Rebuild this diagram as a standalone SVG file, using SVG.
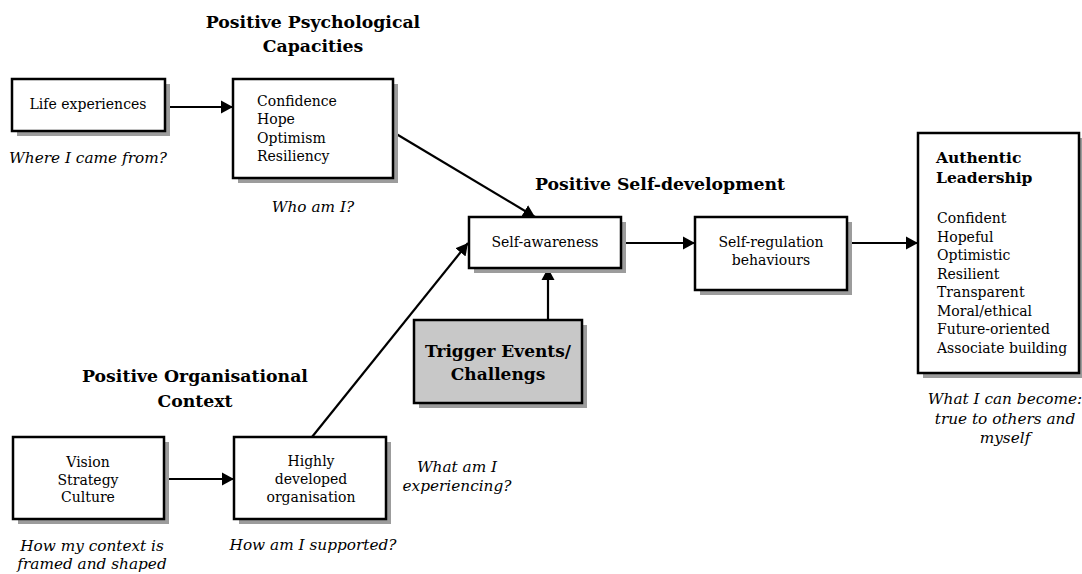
<svg xmlns="http://www.w3.org/2000/svg" width="1082" height="574" viewBox="0 0 1082 574">
<defs>
<style>
.box{fill:#fff;stroke:#000;stroke-width:2.5}
.trig{fill:#c8c8c8;stroke:#000;stroke-width:2.5}
.sh{fill:#9c9c9c}
.t{font-family:"DejaVu Serif","Liberation Serif",serif;font-size:14px;fill:#000}
.c{text-anchor:middle}
.h{font-family:"DejaVu Serif","Liberation Serif",serif;font-size:17.3px;font-weight:bold;fill:#000}
.ha{font-family:"DejaVu Serif","Liberation Serif",serif;font-size:15.5px;font-weight:bold;fill:#000}
.tb{font-family:"DejaVu Serif","Liberation Serif",serif;font-size:17px;font-weight:bold;fill:#000}
.i{font-family:"DejaVu Serif","Liberation Serif",serif;font-size:15.3px;font-style:italic;fill:#000}
.ln{stroke:#000;stroke-width:2.2;fill:none;marker-end:url(#ah)}
</style>
<marker id="ah" markerUnits="userSpaceOnUse" markerWidth="14" markerHeight="14" refX="12" refY="7" orient="auto">
<path d="M0,0.5 L12,7 L0,13.5 Z" fill="#000"/>
</marker>
</defs>

<text class="h c" x="313" y="28">Positive Psychological</text>
<text class="h c" x="313" y="52">Capacities</text>
<text class="h c" x="660" y="190">Positive Self-development</text>
<text class="h c" x="195" y="382">Positive Organisational</text>
<text class="h c" x="195" y="407">Context</text>

<g id="connectors">
<line class="ln" x1="165" y1="107" x2="233" y2="107"/>
<line class="ln" x1="393" y1="132" x2="535" y2="217"/>
<line class="ln" x1="312" y1="437" x2="468" y2="243"/>
<line class="ln" x1="548" y1="320" x2="548" y2="268"/>
<line class="ln" x1="164" y1="479" x2="234" y2="479"/>
<line class="ln" x1="621" y1="243" x2="695" y2="243"/>
<line class="ln" x1="847" y1="243" x2="918" y2="243"/>
</g>

<g id="life">
<rect class="sh" x="17" y="84" width="153" height="52"/>
<rect class="box" x="12" y="79" width="153" height="52"/>
<text class="t c" x="88" y="109">Life experiences</text>
<text class="i c" x="88" y="163">Where I came from?</text>
</g>

<g id="psych">
<rect class="sh" x="238" y="84" width="160" height="99"/>
<rect class="box" x="233" y="79" width="160" height="99"/>
<text class="t" x="257" y="106">Confidence</text>
<text class="t" x="257" y="124">Hope</text>
<text class="t" x="257" y="143">Optimism</text>
<text class="t" x="257" y="161">Resiliency</text>
<text class="i c" x="313" y="212">Who am I?</text>
</g>

<g id="selfaware">
<rect class="sh" x="474" y="222" width="152" height="51"/>
<rect class="box" x="469" y="217" width="152" height="51"/>
<text class="t c" x="545" y="247">Self-awareness</text>
</g>

<g id="selfreg">
<rect class="sh" x="700" y="222" width="152" height="73"/>
<rect class="box" x="695" y="217" width="152" height="73"/>
<text class="t c" x="771" y="247">Self-regulation</text>
<text class="t c" x="771" y="265">behaviours</text>
</g>

<g id="trigger">
<rect class="sh" x="419" y="325" width="168" height="83"/>
<rect class="trig" x="414" y="320" width="168" height="83"/>
<text class="tb c" x="498" y="357">Trigger Events/</text>
<text class="tb c" x="498" y="380">Challengs</text>
<text class="i c" x="457" y="472">What am I</text>
<text class="i c" x="457" y="491">experiencing?</text>
</g>

<g id="authentic">
<rect class="sh" x="923" y="138" width="165" height="240"/>
<rect class="box" x="918" y="133" width="161" height="240"/>
<text class="ha" x="936" y="163">Authentic</text>
<text class="ha" x="936" y="183">Leadership</text>
<text class="t" x="937" y="223">Confident</text>
<text class="t" x="937" y="241.5">Hopeful</text>
<text class="t" x="937" y="260">Optimistic</text>
<text class="t" x="937" y="278.5">Resilient</text>
<text class="t" x="937" y="297">Transparent</text>
<text class="t" x="937" y="315.5">Moral/ethical</text>
<text class="t" x="937" y="334">Future-oriented</text>
<text class="t" x="937" y="352.5">Associate building</text>
<text class="i c" x="1005" y="404">What I can become:</text>
<text class="i c" x="1005" y="424">true to others and</text>
<text class="i c" x="1005" y="443">myself</text>
</g>

<g id="vision">
<rect class="sh" x="18" y="442" width="151" height="82"/>
<rect class="box" x="13" y="437" width="151" height="82"/>
<text class="t c" x="88" y="467">Vision</text>
<text class="t c" x="88" y="485">Strategy</text>
<text class="t c" x="88" y="502">Culture</text>
<text class="i c" x="92" y="551">How my context is</text>
<text class="i c" x="92" y="569">framed and shaped</text>
</g>

<g id="highly">
<rect class="sh" x="239" y="442" width="152" height="82"/>
<rect class="box" x="234" y="437" width="152" height="82"/>
<text class="t c" x="311" y="466">Highly</text>
<text class="t c" x="311" y="484">developed</text>
<text class="t c" x="311" y="502">organisation</text>
<text class="i c" x="313" y="550">How am I supported?</text>
</g>
</svg>
